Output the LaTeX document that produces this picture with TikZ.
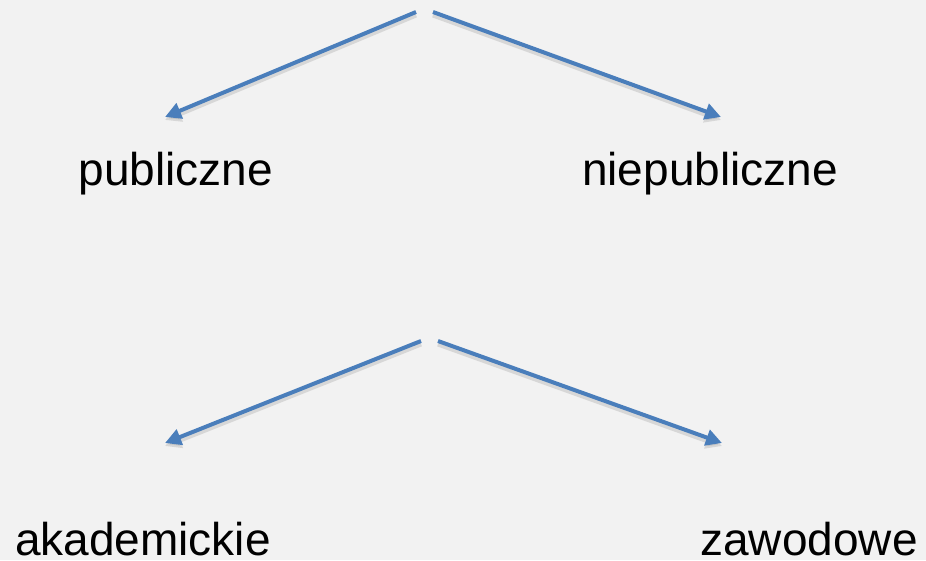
\documentclass[tikz,border=0pt]{standalone}
\usepackage{fontspec}
\setmainfont{Liberation Sans}
\usetikzlibrary{arrows.meta,positioning}
\definecolor{bgcol}{HTML}{F2F2F2}
\definecolor{arrowblue}{RGB}{74,126,187}

\begin{document}
\begin{tikzpicture}[
        x=1pt, y=-1pt,
        every node/.style={font=\fontsize{46}{50}\selectfont, inner sep=0pt, anchor=base},
        every path/.style={line width=4pt},
        branch/.style={draw=arrowblue, -{Triangle[length=16pt,width=16pt]},
            preaction={draw=black!40, opacity=0.3, line width=5pt, transform canvas={yshift=-3pt}, -{Triangle[length=16pt,width=16pt]}}}
    ]
    \fill[bgcol] (0,0) rectangle (926,560);
    \useasboundingbox (0,0) rectangle (926,560);

    % Nodes
    \node (pub) at (176,185) {publiczne};
    \node (niepub) at (710,185) {niepubliczne};
    \node (akad) at (143,555) {akademickie};
    \node (zaw) at (809,555) {zawodowe};

    \coordinate (top1) at (416,12);
    \coordinate (top2) at (433,12);
    \coordinate (tip1) at (165,117);
    \coordinate (tip2) at (721,117);
    \coordinate (mid1) at (421,341);
    \coordinate (mid2) at (438,341);
    \coordinate (tip3) at (165,443);
    \coordinate (tip4) at (722,443);

    % Edges
    \draw[branch] (top1) -- (tip1);
    \draw[branch] (top2) -- (tip2);
    \draw[branch] (mid1) -- (tip3);
    \draw[branch] (mid2) -- (tip4);

\end{tikzpicture}
\end{document}
